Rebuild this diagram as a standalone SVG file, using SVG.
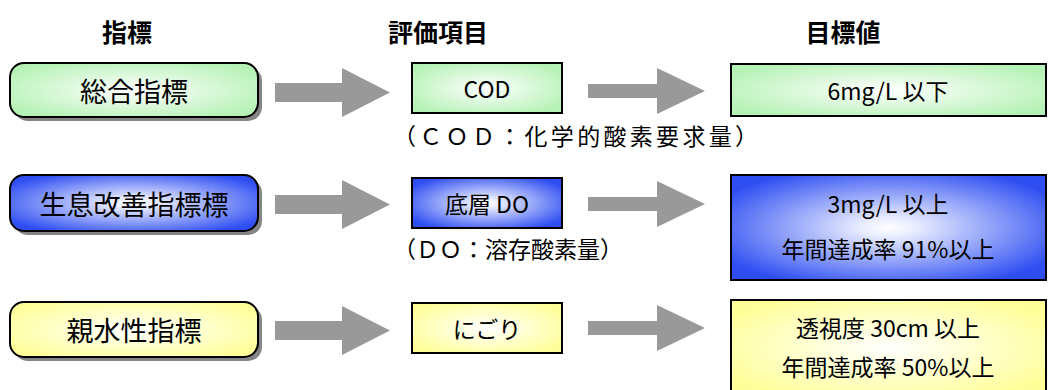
<svg xmlns="http://www.w3.org/2000/svg" width="1056" height="390" viewBox="0 0 1056 390">
<defs>
<radialGradient id="gGreen" cx="50%" cy="50%" r="60%">
<stop offset="0" stop-color="#ffffff"/><stop offset="1" stop-color="#b5f2b5"/>
</radialGradient>
<radialGradient id="gBlue" cx="50%" cy="50%" r="60%">
<stop offset="0" stop-color="#ffffff"/><stop offset="0.15" stop-color="#e8ecff"/><stop offset="1" stop-color="#2e4ef2"/>
</radialGradient>
<radialGradient id="gYellow" cx="50%" cy="50%" r="60%">
<stop offset="0" stop-color="#ffffff"/><stop offset="1" stop-color="#ffff99"/>
</radialGradient>
<style>
.hdr{font-family:"Noto Sans CJK JP",sans-serif;font-size:25px;font-weight:700;fill:#000;text-anchor:middle}
.lbl{font-family:"Noto Sans CJK JP",sans-serif;font-size:27px;fill:#000;text-anchor:middle;dominant-baseline:central}
.mid{font-family:"Noto Sans CJK JP",sans-serif;font-size:23px;fill:#000;text-anchor:middle;dominant-baseline:central}
.cap{font-family:"Liberation Serif","Noto Sans CJK JP",serif;font-size:23px;fill:#000}
.pill{stroke:#000;stroke-width:2}
.shadow{fill:#858585}
.box{stroke:#000;stroke-width:2}
.arrow{fill:#999999}
</style>
</defs>
<g id="headers">
<text class="hdr" x="127" y="42">指標</text>
<text class="hdr" x="438" y="42">評価項目</text>
<text class="hdr" x="843" y="42">目標値</text>
</g>
<g id="connectors">
<polygon class="arrow" points="275,83 342,83 342,68 390,92.5 342,117 342,102 275,102"/>
<polygon class="arrow" points="588,84 657,84 657,68 705,91 657,114 657,98 588,98"/>
<polygon class="arrow" points="275,195 342,195 342,180 390,204.5 342,229 342,214 275,214"/>
<polygon class="arrow" points="588,197 657,197 657,181 705,204 657,227 657,211 588,211"/>
<polygon class="arrow" points="275,321 342,321 342,306 390,330.5 342,355 342,340 275,340"/>
<polygon class="arrow" points="588,321 657,321 657,305 705,328 657,351 657,335 588,335"/>
</g>
<g id="node-sogo">
<rect class="shadow" x="14" y="67" width="248" height="54" rx="14"/>
<rect class="pill" x="10" y="63" width="248" height="54" rx="14" fill="url(#gGreen)"/>
<text class="lbl" x="134" y="90">総合指標</text>
</g>
<g id="node-seisoku">
<rect class="shadow" x="14" y="179" width="248" height="56" rx="14"/>
<rect class="pill" x="10" y="175" width="248" height="56" rx="14" fill="url(#gBlue)"/>
<text class="lbl" x="134" y="203">生息改善指標標</text>
</g>
<g id="node-shinsui">
<rect class="shadow" x="14" y="306" width="248" height="55" rx="14"/>
<rect class="pill" x="10" y="302" width="248" height="55" rx="14" fill="url(#gYellow)"/>
<text class="lbl" x="134" y="329">親水性指標</text>
</g>
<g id="node-cod">
<rect class="box" x="412" y="63" width="150" height="50" fill="url(#gGreen)"/>
<text class="mid" x="487" y="88">COD</text>
</g>
<g id="node-do">
<rect class="box" x="412" y="178" width="150" height="50" fill="url(#gBlue)"/>
<text class="mid" x="487" y="203">底層 DO</text>
</g>
<g id="node-nigori">
<rect class="box" x="412" y="303" width="150" height="50" fill="url(#gYellow)"/>
<text class="mid" x="487" y="328">にごり</text>
</g>
<g id="captions">
<text class="cap" x="393" y="145" textLength="365">（ＣＯＤ：化学的酸素要求量）</text>
<text class="cap" x="393" y="258" textLength="230">（ＤＯ：溶存酸素量）</text>
</g>
<g id="target-cod">
<rect class="box" x="731" y="64" width="315" height="52" fill="url(#gGreen)"/>
<text class="mid" x="888" y="90">6mg/L 以下</text>
</g>
<g id="target-do">
<rect class="box" x="731" y="175" width="315" height="105" fill="url(#gBlue)"/>
<text class="mid" x="888" y="203">3mg/L 以上</text>
<text class="mid" x="888" y="248">年間達成率 91%以上</text>
</g>
<g id="target-nigori">
<rect class="box" x="731" y="300" width="315" height="95" fill="url(#gYellow)"/>
<text class="mid" x="888" y="327">透視度 30cm 以上</text>
<text class="mid" x="888" y="366">年間達成率 50%以上</text>
</g>
</svg>
